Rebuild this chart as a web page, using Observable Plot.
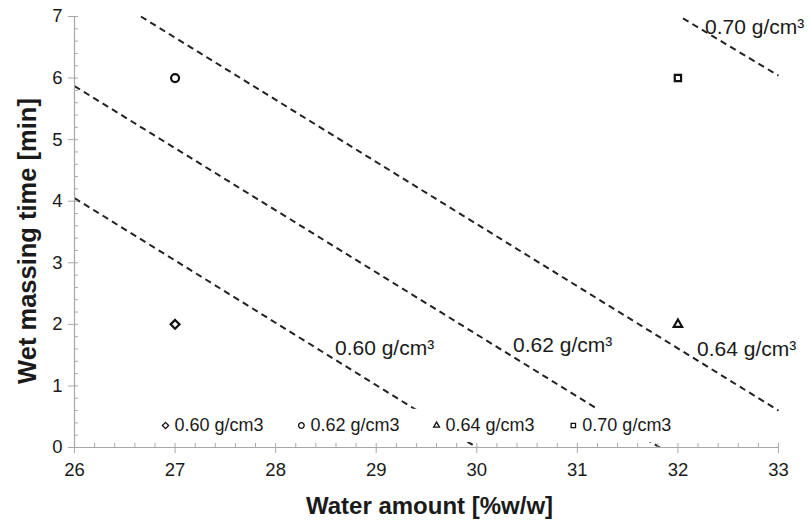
<!DOCTYPE html>
<html><head><meta charset="utf-8">
<script src="https://cdn.jsdelivr.net/npm/d3@7"></script>
<script src="https://cdn.jsdelivr.net/npm/@observablehq/plot@0.6"></script>
<style>
body{margin:0;background:#fff;}
#chart svg{font-family:"Liberation Sans",Arial,sans-serif;background:#fff;}
</style>
</head><body><div id="chart"></div>
<script>
// ---- data ----
const legendLabels = ["0.60 g/cm3", "0.62 g/cm3", "0.64 g/cm3", "0.70 g/cm3"];
const pointX = [27, 27, 32, 32];
const pointY = [2, 6, 2, 6];
const pointSymbols = ["diamond2", "circle", "triangle2", "square2"];
const lineLabels = ["0.60 g/cm³", "0.62 g/cm³", "0.64 g/cm³", "0.70 g/cm³"];
const lineX1 = [26, 26, 26.66, 32.05];
const lineY1 = [4.05, 5.87, 7.0, 6.97];
const lineX2 = [30.0, 31.82, 33.0, 33.0];
const lineY2 = [0, 0, 0.6, 6.04];
const labelX = [28.59, 30.36, 32.19, 32.27];
const labelY = [1.61, 1.66, 1.59, 6.83];
const xTicks = [26, 27, 28, 29, 30, 31, 32, 33];
const yTicks = [0, 1, 2, 3, 4, 5, 6, 7];
const legendX = [26.905, 28.256, 29.6, 30.96];
const legendY = [0.357, 0.357, 0.357, 0.357];
const legendBox = [{x1: 26.8, x2: 32.15, y1: 0.08, y2: 0.62}];

// ---- derived tables ----
const points = pointX.map((x, i) => ({x, y: pointY[i], s: pointSymbols[i]}));
const lines = lineX1.map((x1, i) => ({x1, y1: lineY1[i], x2: lineX2[i], y2: lineY2[i]}));
const labels = labelX.map((x, i) => ({x, y: labelY[i], t: lineLabels[i]}));
const legend = legendX.map((x, i) => ({x, y: legendY[i], s: pointSymbols[i], t: legendLabels[i]}));
const minorX = d3.range(0, 36).map(i => 26 + i * 0.2);
const minorY = d3.range(0, 36).map(i => i * 0.2);

const axisGray = "#a8a8a8";
const txt = "#1a1a1a";

const chart = Plot.plot({
  width: 810,
  height: 522,
  marginLeft: 74,
  marginRight: 32,
  marginTop: 16,
  marginBottom: 75,
  x: {domain: [26, 33]},
  y: {domain: [0, 7]},
  marks: [
    Plot.link(lines, {x1: "x1", y1: "y1", x2: "x2", y2: "y2", stroke: "#222", strokeWidth: 2, strokeDasharray: "6.5,4.5"}),
    Plot.rect(legendBox, {x1: "x1", x2: "x2", y1: "y1", y2: "y2", fill: "white"}),
    Plot.ruleY([0], {stroke: axisGray, strokeWidth: 1.2}),
    Plot.ruleX([26], {stroke: axisGray, strokeWidth: 1.2}),
    Plot.axisX({ticks: xTicks, tickSize: 6, tickPadding: 9, fontSize: 18.5, stroke: axisGray, color: txt, label: null, tickFormat: d => String(d)}),
    Plot.axisX({ticks: minorX, tickSize: -4, text: null, stroke: axisGray, label: null}),
    Plot.axisY({ticks: yTicks, tickSize: 6, tickPadding: 6, fontSize: 18.5, stroke: axisGray, color: txt, label: null, tickFormat: d => String(d)}),
    Plot.axisY({ticks: minorY, tickSize: -4, text: null, stroke: axisGray, label: null}),
    Plot.dot(points, {x: "x", y: "y", symbol: "s", r: 4, stroke: "#111", strokeWidth: 2.2, fill: "white"}),
    Plot.text(labels, {x: "x", y: "y", text: "t", textAnchor: "start", fontSize: 21, fill: txt}),
    Plot.dot(legend, {x: "x", y: "y", symbol: "s", r: 2.8, stroke: "#111", strokeWidth: 1.3, fill: "white"}),
    Plot.text(legend, {x: "x", y: "y", text: "t", textAnchor: "start", dx: 9, fontSize: 18, fill: txt}),
    Plot.text(["Water amount [%w/w]"], {frameAnchor: "bottom", textAnchor: "middle", dx: 3, dy: 66, fontSize: 24, fontWeight: "bold", fill: txt}),
    Plot.text(["Wet massing time [min]"], {frameAnchor: "left", textAnchor: "middle", dx: -47, dy: 9, rotate: -90, fontSize: 25.5, fontWeight: "bold", fill: txt})
  ]
});
document.getElementById("chart").appendChild(chart);
</script>
</body></html>
